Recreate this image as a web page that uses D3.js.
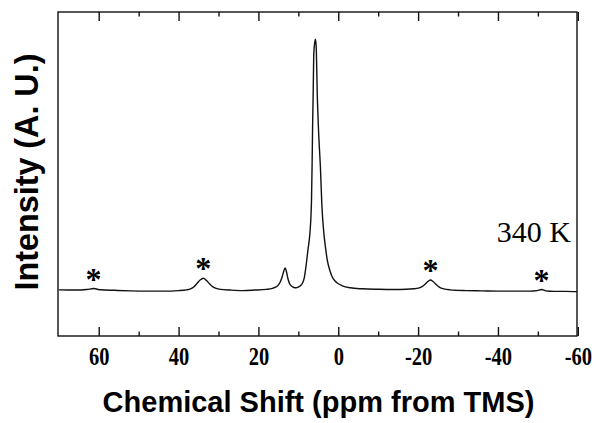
<!DOCTYPE html>
<html>
<head>
<meta charset="utf-8">
<script src="https://cdn.jsdelivr.net/npm/d3@7"></script>
<style>
    html, body { margin: 0; padding: 0; background: #fff; }
</style>
</head>
<body>
<div id="chart"></div>
<script>
/*global d3*/

// 13C NMR spectrum (ppm from TMS, intensity normalised to main peak)
var shiftPpm = [70, 66, 63, 61.3, 59.5, 56, 52, 48, 44, 40, 38, 37, 36.2, 35.4, 34.6, 33.8, 33.0, 32.2, 31.4, 30.6,
    29.5, 27, 24, 21, 18, 16.5, 15.3, 14.6, 14.0, 13.6, 13.3, 13.0, 12.6, 12.2, 11.8, 11.2, 10.6, 10.0, 9.5, 8.9,
    8.5, 8.1, 7.6, 7.1, 6.85, 6.7, 6.55, 6.44, 6.27, 6.12, 5.9, 5.69, 5.5, 5.26, 4.94, 4.44, 4.11, 3.61, 3.2, 2.76,
    2.1, 1.5, 0.8, 0.25, -1, -3, -6, -10, -14, -17, -18.8, -20.1, -21, -21.6, -22.3, -23.1, -23.8, -24.6, -25.4, -26.4,
    -28, -32, -36, -40, -44, -48, -49.8, -50.9, -52, -54, -57, -59.8];

var intensity = [0.001, 0.0, 0.002, 0.006, 0.001, -0.001, -0.003, -0.004, -0.004, -0.002, 0.001, 0.005, 0.012, 0.026, 0.040, 0.047, 0.038, 0.024, 0.013, 0.007,
    0.003, 0.0, -0.002, 0.0, 0.003, 0.007, 0.015, 0.030, 0.055, 0.078, 0.088, 0.075, 0.045, 0.026, 0.017, 0.011, 0.009, 0.012, 0.017, 0.030,
    0.050, 0.092, 0.159, 0.227, 0.290, 0.360, 0.500, 0.637, 0.797, 0.944, 0.985, 1.0, 0.960, 0.780, 0.637, 0.478, 0.340, 0.227, 0.170, 0.120,
    0.078, 0.052, 0.036, 0.028, 0.017, 0.009, 0.005, 0.003, 0.002, 0.003, 0.005, 0.008, 0.014, 0.021, 0.032, 0.040, 0.033, 0.021, 0.011, 0.005,
    0.001, -0.002, -0.003, -0.004, -0.004, -0.004, -0.002, 0.002, -0.003, -0.005, -0.005, -0.006];

// spinning sidebands marked with an asterisk
var sidebandPpm = [61.3, 33.8, -23.1, -50.9];
var sidebandPeak = [0.006, 0.047, 0.040, 0.002];

var majorTicks = [60, 40, 20, 0, -20, -40, -60];
var minorTicks = [50, 30, 10, -10, -30, -50];

var tempLabel = "340 K";
var xTitle = "Chemical Shift (ppm from TMS)";
var yTitle = "Intensity (A. U.)";

(function () {
    "use strict";

    var W = 596, H = 423,
        margin = {left: 58, top: 12, right: 19, bottom: 87},
        w = W - margin.left - margin.right,
        h = H - margin.top - margin.bottom,
        serif = "'Liberation Serif', 'Times New Roman', serif",
        sans = "'Liberation Sans', Arial, sans-serif";

    var svg = d3.select("#chart").append("svg")
        .attr("width", W)
        .attr("height", H);

    var g = svg.append("g")
        .attr("transform", "translate(" + margin.left + "," + margin.top + ")");

    // ppm axis runs backwards, as usual for NMR
    var x = d3.scaleLinear().domain([70.2, -59.8]).range([0, w]);
    var y = d3.scaleLinear().domain([-0.183, 1.108]).range([h, 0]);

    // inward ticks on bottom and top
    var drawTicks = function (axis, yPos, values, size, labels) {
        var a = g.append("g")
            .attr("transform", "translate(0," + yPos + ")")
            .call(axis(x).tickValues(values).tickSizeInner(size).tickSizeOuter(0)
                .tickPadding(11)
                .tickFormat(labels ? function (d) { return String(d); } : ""));
        a.select(".domain").remove();
        a.selectAll(".tick line").attr("stroke", "#111").attr("stroke-width", 1.4);
        return a;
    };

    var bottom = drawTicks(d3.axisBottom, h, majorTicks, -9, true);
    drawTicks(d3.axisBottom, h, minorTicks, -4.5, false);
    drawTicks(d3.axisTop, 0, majorTicks, -9, false);
    drawTicks(d3.axisTop, 0, minorTicks, -4.5, false);

    bottom.selectAll(".tick text")
        .attr("font-family", serif)
        .attr("font-size", 25)
        .attr("font-weight", "bold")
        .attr("fill", "#000")
        .attr("transform", "scale(0.82,1)");

    // frame
    g.append("rect")
        .attr("x", 0).attr("y", 0)
        .attr("width", w).attr("height", h)
        .attr("fill", "none")
        .attr("stroke", "#111")
        .attr("stroke-width", 1.4);

    // spectrum
    var line = d3.line()
        .x(function (d) { return x(d); })
        .y(function (d, i) { return y(intensity[i]); })
        .curve(d3.curveMonotoneX);

    g.append("path")
        .datum(shiftPpm)
        .attr("d", line)
        .attr("fill", "none")
        .attr("stroke", "#111")
        .attr("stroke-width", 1.4);

    // asterisks over sidebands
    g.selectAll(".star")
        .data(sidebandPpm)
        .enter().append("text")
        .attr("class", "star")
        .attr("x", function (d) { return x(d); })
        .attr("y", function (d, i) { return y(sidebandPeak[i]) + 1; })
        .attr("text-anchor", "middle")
        .attr("font-family", serif)
        .attr("font-size", 32)
        .attr("font-weight", "bold")
        .text("*");

    g.append("text")
        .attr("x", w - 6)
        .attr("y", 230)
        .attr("text-anchor", "end")
        .attr("font-family", serif)
        .attr("font-size", 30)
        .text(tempLabel);

    // axis titles
    svg.append("text")
        .attr("x", margin.left + w / 2 + 1)
        .attr("y", 412)
        .attr("text-anchor", "middle")
        .attr("font-family", sans)
        .attr("font-size", 29)
        .attr("font-weight", "bold")
        .text(xTitle);

    svg.append("text")
        .attr("transform", "translate(38," + (margin.top + 160) + ") rotate(-90) scale(0.95,1)")
        .attr("text-anchor", "middle")
        .attr("font-family", sans)
        .attr("font-size", 34)
        .attr("font-weight", "bold")
        .text(yTitle);
}());
</script>
</body>
</html>
